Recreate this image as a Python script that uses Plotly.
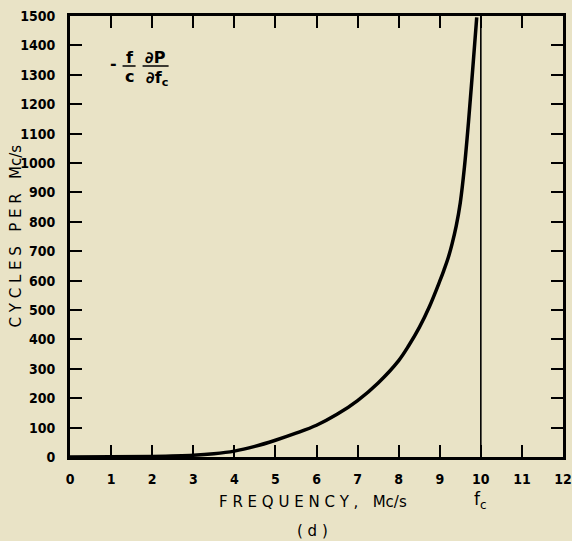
import plotly.graph_objects as go

# Data
freq = [0, 1, 2, 3, 3.5, 4, 4.5, 5, 5.5, 6, 6.5, 7, 7.5, 8, 8.25, 8.5, 8.75,
        9.0, 9.1, 9.2, 9.3, 9.4, 9.5, 9.6, 9.7, 9.8, 9.9]
cycles = [0, 0.5, 2, 6, 11, 20, 36, 57, 81, 108, 145, 192, 252, 328, 380, 440, 512,
          598, 635, 675, 725, 785, 865, 985, 1140, 1315, 1495]
fc_value = 10
x_ticks = list(range(0, 13))
y_ticks = list(range(0, 1501, 100))

BG = "#e9e3c6"
TICKFONT = "DejaVu Sans Condensed, DejaVu Sans, sans-serif"
LABELFONT = "DejaVu Sans, sans-serif"

fig = go.Figure()
fig.add_trace(go.Scatter(x=freq, y=cycles, mode="lines",
                         line=dict(color="black", width=3.5, shape="spline", smoothing=1.0),
                         showlegend=False, hoverinfo="skip"))
fig.add_trace(go.Scatter(x=[fc_value, fc_value], y=[0, 1500], mode="lines",
                         line=dict(color="black", width=1.6),
                         showlegend=False, hoverinfo="skip"))

axis_common = dict(showgrid=False, zeroline=False, showline=True, linecolor="black",
                   linewidth=3, mirror="allticks", ticks="inside", ticklen=12,
                   tickwidth=2, tickcolor="black",
                   tickfont=dict(family=TICKFONT, size=14, color="black", weight="bold"))

fig.update_xaxes(range=[0, 12], tickvals=x_ticks, ticktext=[str(v) for v in x_ticks],
                 ticklabelstandoff=7, **axis_common)
fig.update_yaxes(range=[0, 1500], tickvals=y_ticks, ticktext=[str(v) for v in y_ticks],
                 ticklabelstandoff=9, **axis_common)

fig.update_layout(width=572, height=541, paper_bgcolor=BG, plot_bgcolor=BG,
                  margin=dict(l=70, r=9, t=16, b=84, autoexpand=False))

PL, PR, PT, PB = 70.5, 563.0, 16.0, 457.0

def px2x(px):
    return (px - PL) / (PR - PL) * 12

def py2y(py):
    return (PB - py) / (PB - PT) * 1500

def px2paper(px):
    return (px - PL) / (PR - PL)

def py2paper(py):
    return (PB - py) / (PB - PT)

txt = dict(family=LABELFONT, size=16, color="black", weight="bold")
ann = []
# axis titles
ann.append(dict(text="C Y C L E S   P E R   Mc/s", xref="paper", yref="paper",
                x=px2paper(17), y=py2paper(236), textangle=-90, showarrow=False,
                font=dict(family=LABELFONT, size=15, color="black"),
                xanchor="center", yanchor="middle"))
ann.append(dict(text="F R E Q U E N C Y ,   Mc/s", xref="paper", yref="paper",
                x=px2paper(313), y=py2paper(502), showarrow=False, yanchor="middle", xanchor="center",
                font=dict(family=LABELFONT, size=15, color="black")))
ann.append(dict(text="f<sub>c</sub>", xref="x", yref="paper", x=fc_value, y=py2paper(500),
                showarrow=False, yanchor="middle", xanchor="center",
                font=dict(family=LABELFONT, size=17, color="black")))
ann.append(dict(text="( d )", xref="paper", yref="paper", x=px2paper(313), y=py2paper(531),
                showarrow=False, yanchor="middle", xanchor="center",
                font=dict(family=LABELFONT, size=15, color="black")))
# formula
ann.append(dict(text="-", x=px2x(114), y=py2y(63), showarrow=False, font=txt,
                xanchor="center", yanchor="middle"))
ann.append(dict(text="f", x=px2x(130), y=py2y(57), showarrow=False, font=txt,
                xanchor="center", yanchor="middle"))
ann.append(dict(text="c", x=px2x(130), y=py2y(76), showarrow=False, font=txt,
                xanchor="center", yanchor="middle"))
ann.append(dict(text="∂P", x=px2x(156), y=py2y(57), showarrow=False, font=txt,
                xanchor="center", yanchor="middle"))
ann.append(dict(text="∂f<sub>c</sub>", x=px2x(157), y=py2y(78), showarrow=False, font=txt,
                xanchor="center", yanchor="middle"))
fig.update_layout(annotations=ann)

fig.add_shape(type="line", x0=px2x(123), x1=px2x(136), y0=py2y(66), y1=py2y(66),
              line=dict(color="black", width=1.5))
fig.add_shape(type="line", x0=px2x(143), x1=px2x(169), y0=py2y(66), y1=py2y(66),
              line=dict(color="black", width=1.5))

fig.write_html("out.html", config={"displayModeBar": False},
               post_script="document.body.style.margin='0';document.body.style.padding='0';"
                           "document.body.style.overflow='hidden';")
